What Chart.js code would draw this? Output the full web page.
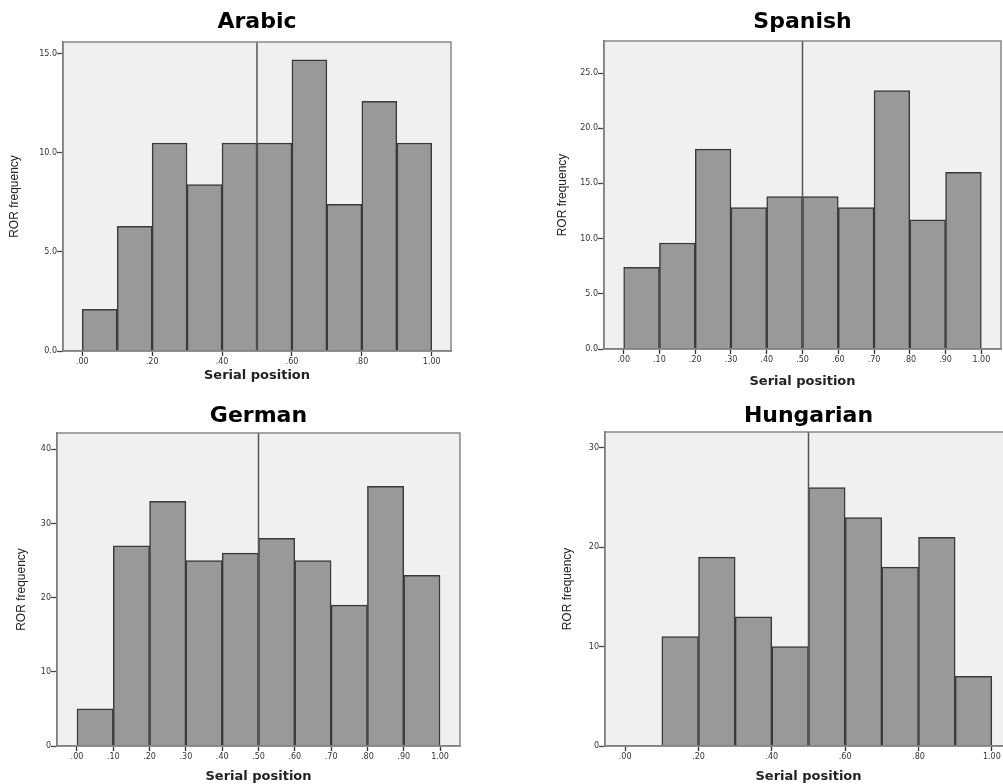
<!DOCTYPE html>
<html>
<head>
<meta charset="utf-8">
<script src="https://cdn.jsdelivr.net/npm/chart.js@4/dist/chart.umd.min.js"></script>
<style>
  html, body { margin: 0; padding: 0; background: #fff; overflow: hidden; }
  body { width: 1003px; height: 784px; position: relative; }
  canvas { position: absolute; }
</style>
</head>
<body>
<canvas id="arabic" width="470" height="392" style="left:0;top:0"></canvas>
<canvas id="spanish" width="463" height="392" style="left:540px;top:0"></canvas>
<canvas id="german" width="470" height="392" style="left:0;top:392px"></canvas>
<canvas id="hungarian" width="480" height="392" style="left:540px;top:392px"></canvas>
<script>
'use strict';

// ── data ────────────────────────────────────────────────────
const binCenters = [0.05, 0.15, 0.25, 0.35, 0.45, 0.55, 0.65, 0.75, 0.85, 0.95];

const arabicValues    = [2.1, 6.3, 10.5, 8.4, 10.5, 10.5, 14.7, 7.4, 12.6, 10.5];
const spanishValues   = [7.4, 9.6, 18.1, 12.8, 13.8, 13.8, 12.8, 23.4, 11.7, 16.0];
const germanValues    = [5, 27, 33, 25, 26, 28, 25, 19, 35, 23];
const hungarianValues = [0, 11, 19, 13, 10, 26, 23, 18, 21, 7];

const xTicksFine   = [0, 0.1, 0.2, 0.3, 0.4, 0.5, 0.6, 0.7, 0.8, 0.9, 1.0];
const xTicksCoarse = [0, 0.2, 0.4, 0.6, 0.8, 1.0];

const arabicYTicks    = [0, 5, 10, 15];
const spanishYTicks   = [0, 5, 10, 15, 20, 25];
const germanYTicks    = [0, 10, 20, 30, 40];
const hungarianYTicks = [0, 10, 20, 30];

const refLine = 0.5;   // midpoint marker
const xMin = -0.055, xMax = 1.055;

Chart.defaults.font.family = "'DejaVu Sans', sans-serif";
Chart.defaults.color = '#333';

// plot background, frame and the .50 line
const framePlugin = {
  id: 'frame',
  beforeDraw(chart) {
    const { ctx, chartArea: a } = chart;
    ctx.save();
    ctx.fillStyle = '#f0f0f0';
    ctx.fillRect(a.left, a.top, a.right - a.left, a.bottom - a.top);
    ctx.restore();
  },
  afterDatasetsDraw(chart) {
    const { ctx, chartArea: a, scales } = chart;
    const x = scales.x.getPixelForValue(refLine);
    ctx.save();
    ctx.strokeStyle = '#555';
    ctx.lineWidth = 1.5;
    ctx.beginPath();
    ctx.moveTo(x, a.top);
    ctx.lineTo(x, a.bottom);
    ctx.stroke();
    ctx.strokeStyle = '#888';
    ctx.strokeRect(a.left, a.top, a.right - a.left, a.bottom - a.top);
    ctx.restore();
  }
};

function renderHist(id, title, values, xTicks, yTicks, yMax, yDec, g) {
  const ctx = document.getElementById(id).getContext('2d');
  return new Chart(ctx, {
    type: 'bar',
    data: {
      datasets: [{
        data: binCenters.map((c, i) => ({ x: c, y: values[i] })),
        backgroundColor: '#999999',
        borderColor: '#3a3a3a',
        borderWidth: 1.5,
        barPercentage: 1,
        categoryPercentage: 1,
      }]
    },
    options: {
      responsive: false,
      animation: false,
      layout: { padding: { left: 0, right: g.padRight, top: 0, bottom: 0 } },
      scales: {
        x: {
          type: 'linear',
          offset: false,
          min: xMin,
          max: xMax,
          z: 1,
          afterBuildTicks: s => { s.ticks = xTicks.map(v => ({ value: v })); },
          afterFit: s => { s.height = g.xH; },
          grid: { offset: false, drawOnChartArea: false, tickLength: 5, tickWidth: 1.3, tickColor: '#333' },
          border: { color: '#666', width: 1.5 },
          ticks: {
            autoSkip: false, maxRotation: 0, padding: 1,
            font: { size: 8 },
            callback: v => v.toFixed(2).replace(/^0\./, '.')
          },
          title: {
            display: true, text: 'Serial position', color: '#222',
            font: { size: 13, weight: 'bold' },
            padding: { top: 0, bottom: g.xTitlePad }
          }
        },
        y: {
          min: 0,
          max: yMax,
          z: 1,
          afterBuildTicks: s => { s.ticks = yTicks.map(v => ({ value: v })); },
          afterFit: s => { s.width = g.yW; },
          grid: { drawOnChartArea: false, tickLength: 6, tickWidth: 1.3, tickColor: '#444' },
          border: { color: '#666', width: 1.5 },
          ticks: {
            padding: 0,
            font: { size: 8 },
            callback: v => v.toFixed(yDec)
          },
          title: {
            display: true, text: 'ROR frequency', color: '#222',
            font: { family: "'Liberation Sans', Arial, sans-serif", size: 12 },
            padding: { top: g.yTitlePad, bottom: 0 }
          }
        }
      },
      plugins: {
        legend: { display: false },
        tooltip: { enabled: false },
        title: {
          display: true, text: title, color: '#000', fullSize: false,
          font: { size: 22, weight: 'bold' },
          padding: { top: g.titleTop, bottom: g.titleBottom }
        }
      }
    },
    plugins: [framePlugin]
  });
}

renderHist('arabic', 'Arabic', arabicValues, xTicksCoarse, arabicYTicks, 15.6, 1,
  { padRight: 19, yW: 63, xH: 41, titleTop: 9, titleBottom: 6.6, xTitlePad: 8.2, yTitlePad: 7.8 });
renderHist('spanish', 'Spanish', spanishValues, xTicksFine, spanishYTicks, 27.9, 1,
  { padRight: 2, yW: 64, xH: 43, titleTop: 9, titleBottom: 5.6, xTitlePad: 2.2, yTitlePad: 15.8 });
renderHist('german', 'German', germanValues, xTicksFine, germanYTicks, 42.2, 0,
  { padRight: 10, yW: 57, xH: 38, titleTop: 10.8, titleBottom: 3.8, xTitlePad: 0, yTitlePad: 14.5 });
renderHist('hungarian', 'Hungarian', hungarianValues, xTicksCoarse, hungarianYTicks, 31.6, 0,
  { padRight: 8, yW: 65, xH: 38, titleTop: 10.8, titleBottom: 2.8, xTitlePad: 0, yTitlePad: 20.8 });
</script>
</body>
</html>
